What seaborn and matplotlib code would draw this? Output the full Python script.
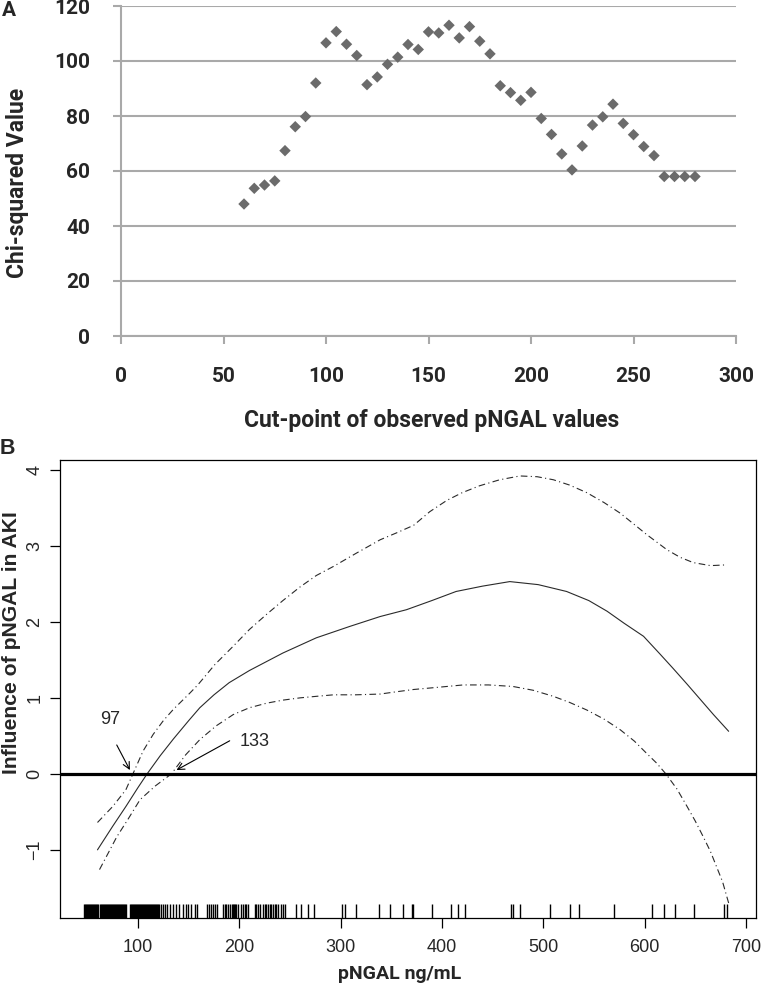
import matplotlib
matplotlib.use("Agg")
import matplotlib.pyplot as plt
import seaborn as sns
import numpy as np
import pandas as pd

# ---------------- Panel A data ----------------
cut_points = [60, 65, 70, 75, 80, 85, 90, 95, 100, 105, 110, 115, 120, 125, 130,
              135, 140, 145, 150, 155, 160, 165, 170, 175, 180, 185, 190, 195, 200,
              205, 210, 215, 220, 225, 230, 235, 240, 245, 250, 255, 260, 265, 270,
              275, 280]
chi_sq = [48.0, 53.7, 54.9, 56.4, 67.4, 76.1, 79.8, 92.0, 106.6, 110.7, 106.1, 102.0,
          91.4, 94.2, 98.8, 101.4, 106.0, 104.2, 110.6, 110.2, 113.0, 108.4, 112.5,
          107.2, 102.6, 91.0, 88.5, 85.7, 88.6, 79.1, 73.3, 66.2, 60.4, 69.1, 76.7,
          79.7, 84.3, 77.3, 73.2, 68.9, 65.6, 58.0, 58.0, 58.0, 58.0]
a_xticks = [0, 50, 100, 150, 200, 250, 300]
a_yticks = [0, 20, 40, 60, 80, 100, 120]

# ---------------- Panel B data ----------------
fit_x = [60, 75, 88, 100, 109, 122, 135, 150, 161, 175, 190, 210, 243, 276, 309, 339,
         365, 390, 414, 440, 467, 495, 523, 545, 563, 580, 599, 615, 628, 642, 655,
         668, 683]
fit_y = [-1.00, -0.69, -0.43, -0.18, 0.00, 0.24, 0.46, 0.70, 0.87, 1.04, 1.20, 1.36,
         1.59, 1.79, 1.94, 2.07, 2.16, 2.28, 2.40, 2.47, 2.53, 2.49, 2.40, 2.28, 2.14,
         1.98, 1.81, 1.58, 1.39, 1.18, 0.98, 0.78, 0.56]

upper_x = [60, 75, 88, 95, 105, 115, 125, 135, 151, 159, 176, 194, 210, 227, 243, 260,
           276, 293, 315, 339, 355, 372, 388, 405, 420, 437, 457, 477, 494, 510, 526,
           543, 560, 576, 590, 602, 622, 635, 648, 665, 681]
upper_y = [-0.64, -0.43, -0.21, 0.00, 0.30, 0.52, 0.70, 0.85, 1.06, 1.17, 1.44, 1.68,
           1.90, 2.10, 2.28, 2.46, 2.61, 2.73, 2.90, 3.08, 3.17, 3.27, 3.45, 3.60, 3.70,
           3.79, 3.87, 3.92, 3.91, 3.87, 3.80, 3.70, 3.57, 3.43, 3.28, 3.15, 2.95, 2.85,
           2.78, 2.74, 2.75]

lower_x = [62, 79, 90, 102, 117, 133, 147, 161, 177, 194, 210, 227, 243, 260, 276, 293,
           315, 339, 355, 372, 397, 421, 446, 470, 490, 510, 526, 543, 560, 576, 590,
           602, 612, 621, 632, 642, 650, 658, 665, 671, 677, 683]
lower_y = [-1.26, -0.83, -0.60, -0.34, -0.16, 0.00, 0.25, 0.45, 0.63, 0.78, 0.87, 0.93,
           0.97, 1.00, 1.02, 1.04, 1.04, 1.05, 1.08, 1.11, 1.14, 1.17, 1.17, 1.15, 1.10,
           1.02, 0.94, 0.84, 0.72, 0.58, 0.43, 0.27, 0.14, 0.00, -0.20, -0.43, -0.62,
           -0.83, -1.02, -1.22, -1.42, -1.70]

rug_values = [47, 48, 49, 50, 51, 52, 53, 54, 55, 56, 57, 58, 59, 60, 61, 62, 63, 64,
              65, 66, 67, 68, 69, 70, 71, 72, 73, 74, 75, 76, 77, 78, 79, 80, 81, 82,
              83, 84, 85, 86, 87, 88,
              92, 93, 94, 95, 96, 97, 98, 99, 100, 101, 102, 103, 104, 105, 106, 107,
              108, 109, 110, 111, 112, 113, 114, 115, 116, 117, 118, 119, 120, 121,
              122.4, 124.7, 126.7, 128.6, 131.3, 134.6, 137.9, 140.5, 144.4, 147.1,
              149.4, 152.7, 156.0, 158.2, 168.5, 169.8, 171.8, 174.1, 176.4, 178.4,
              183.9, 185.6, 187.3, 188.9, 190.5, 192.5, 193.5, 194.5, 195.5, 196.5,
              198.7, 202.1, 203.7, 205.3, 207.0, 208.6, 215.2, 216.7, 218.2, 220.2,
              223.4, 225.1, 226.8, 228.4, 230.7, 231.7, 233.3, 235.0, 236.6, 238.2,
              241.6, 243.2, 244.8, 256.4, 261.3, 267.9, 273.8, 301.1, 304.1, 315.0,
              338.0, 349.2, 361.1, 370.0, 371.0, 389.7, 408.5, 415.4, 422.6, 467.7,
              470.3, 476.9, 506.5, 526.3, 535.4, 569.7, 606.9, 619.1, 629.9, 648.7,
              678.3, 681.6]
b_xticks = [100, 200, 300, 400, 500, 600, 700]
b_yticks = [-1, 0, 1, 2, 3, 4]
cut_lo_label, cut_hi_label = "97", "133"

# ---------------- Styling ----------------
sns.set_style("white")
FA = ['Roboto', 'DejaVu Sans']
FB = ['Liberation Sans', 'DejaVu Sans']
plt.rcParams['font.family'] = FA

W, H = 762, 991
fig = plt.figure(figsize=(W / 100, H / 100), dpi=100)

def ax_rect(l, t, r, b):
    return [l / W, 1 - b / H, (r - l) / W, (b - t) / H]

# ---------------- Panel A ----------------
axA = fig.add_axes(ax_rect(121, 6, 736, 336))
grid_c = '#a9a9a9'
dfA = pd.DataFrame({"cut": cut_points, "chi": chi_sq})
sns.scatterplot(data=dfA, x="cut", y="chi", marker='D', s=34, color='#6b6b6b',
                edgecolor='none', linewidth=0, ax=axA, zorder=3)
axA.set_xlim(0, 300)
axA.set_ylim(0, 120)
axA.set_xticks(a_xticks)
axA.set_yticks(a_yticks)
axA.yaxis.grid(True, color=grid_c, lw=1.5)
axA.set_axisbelow(True)
for s in ['top', 'right']:
    axA.spines[s].set_visible(False)
for s in ['left', 'bottom']:
    axA.spines[s].set_color(grid_c)
    axA.spines[s].set_linewidth(1.5)
axA.tick_params(axis='both', direction='out', length=6, width=1.5, color=grid_c,
                labelsize=15, pad=16, bottom=True, left=True)
for lab in axA.get_xticklabels() + axA.get_yticklabels():
    lab.set_family(FA)
    lab.set_fontweight('bold')
axA.set_xlabel("Cut-point of observed pNGAL values", fontsize=16.5, fontweight='bold',
               family=FA)
axA.set_ylabel("Chi-squared Value", fontsize=16.5, fontweight='bold', family=FA)
axA.xaxis.set_label_coords((432 - 121) / 615, (336 - 409) / 330)
axA.yaxis.set_label_coords((29 - 121) / 615, (336 - 183) / 330)
fig.text(2 / W, 1 - 11 / H, "A", fontsize=15, fontweight='bold', ha='left', va='center',
         family=FA)

# ---------------- Panel B ----------------
axB = fig.add_axes(ax_rect(60, 460, 756, 918))
line_c = '#2a2a2a'
sns.lineplot(x=fit_x, y=fit_y, ax=axB, color=line_c, lw=0.8, estimator=None, sort=False)
sns.lineplot(x=upper_x, y=upper_y, ax=axB, color=line_c, lw=0.8, estimator=None,
             sort=False, linestyle=(0, (6, 3, 1, 3)))
sns.lineplot(x=lower_x, y=lower_y, ax=axB, color=line_c, lw=0.8, estimator=None,
             sort=False, linestyle=(0, (6, 3, 1, 3)))
axB.axhline(0, color='black', lw=2.3, zorder=4)
sns.rugplot(x=rug_values, ax=axB, height=0.031, color='black', lw=0.8, expand_margins=False)
axB.set_xlim(23, 710)
axB.set_ylim(-1.897, 4.13)
axB.set_xticks(b_xticks)
axB.set_yticks(b_yticks)
for s in axB.spines.values():
    s.set_visible(True)
    s.set_color('black')
    s.set_linewidth(0.9)
axB.tick_params(axis='both', direction='out', length=7, width=0.9, color='black',
                labelsize=13, bottom=True, left=True)
axB.tick_params(axis='x', pad=8)
axB.tick_params(axis='y', pad=5)
for lab in axB.get_xticklabels() + axB.get_yticklabels():
    lab.set_family(FB)
for lab in axB.get_yticklabels():
    lab.set_rotation(90)
    lab.set_va('center')
axB.set_xlabel("pNGAL ng/mL", fontsize=14, fontweight='bold', family=FA)
axB.xaxis.set_label_coords((400 - 60) / 696, (918 - 965) / 458)
axB.set_ylabel("Influence of pNGAL in AKI", fontsize=15.2, fontweight='bold', family=FB)
axB.yaxis.set_label_coords((21 - 60) / 696, (918 - 643) / 458)

arrow_kw = dict(arrowstyle='->', lw=0.8, color='black', shrinkA=0, shrinkB=0,
                mutation_scale=12)
axB.annotate('', xy=(92, 0.05), xytext=(79, 0.38), arrowprops=arrow_kw)
axB.text(72, 0.71, cut_lo_label, fontsize=13, ha='center', va='center', family=FB)
axB.annotate('', xy=(138, 0.05), xytext=(190.5, 0.435), arrowprops=arrow_kw)
axB.text(215, 0.43, cut_hi_label, fontsize=13, ha='center', va='center', family=FB)

fig.text(0, 1 - 448 / H, "B", fontsize=15.5, fontweight='bold', ha='left', va='center',
         family=FB)

fig.savefig("out.png", dpi=100)
